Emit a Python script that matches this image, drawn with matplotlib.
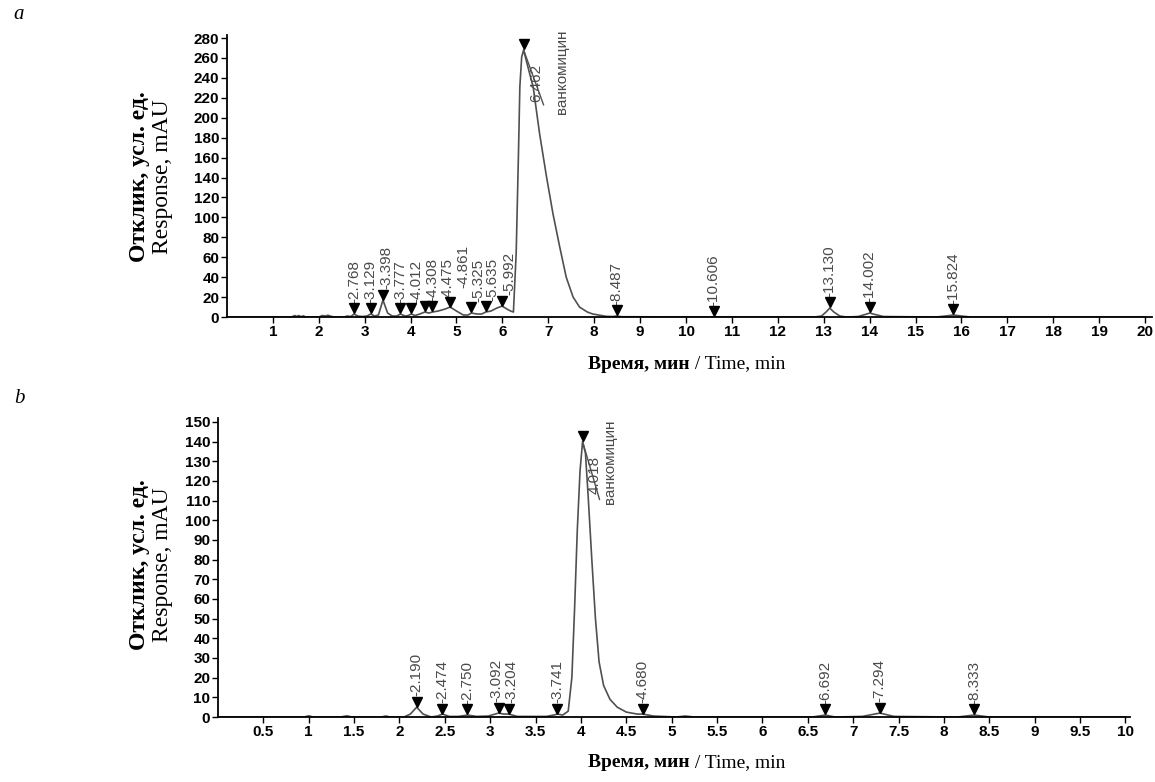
import numpy as np
import matplotlib
matplotlib.use("Agg")
import matplotlib.pyplot as plt
from matplotlib.transforms import offset_copy

# =========================
# DATA
# =========================
# panel a: trace, minutes / mAU
a_time = [0.0, 1.40, 1.48, 1.52, 1.56, 1.62, 1.66, 1.72, 2.00, 2.08, 2.14, 2.20,
          2.26, 2.34, 2.55, 2.62, 2.70, 2.768, 2.85, 2.95, 3.05, 3.129, 3.22,
          3.30, 3.398, 3.50, 3.60, 3.70, 3.777, 3.88, 3.95, 4.012, 4.10, 4.20,
          4.308, 4.40, 4.475, 4.60, 4.75, 4.861, 5.00, 5.15, 5.25, 5.325, 5.45,
          5.55, 5.635, 5.75, 5.88, 5.992, 6.10, 6.18, 6.24, 6.30, 6.35, 6.38,
          6.42, 6.462, 6.55, 6.67, 6.81, 6.96, 7.10, 7.25, 7.39, 7.54, 7.68,
          7.85, 7.97, 8.26, 8.40, 8.487, 8.60, 10.50, 10.606, 10.70, 12.80,
          12.95, 13.05, 13.130, 13.22, 13.35, 13.50, 13.75, 13.90, 14.002,
          14.12, 14.30, 15.45, 15.65, 15.824, 16.00, 16.20, 20.0]
a_resp = [0.0, 0.0, 1.5, 0.5, 1.5, 0.3, 1.2, 0.0, 0.0, 1.5, 1.0, 1.8,
          0.8, 0.0, 0.0, 1.0, 0.5, 3.0, 1.0, 0.5, 1.0, 3.0, 1.0,
          2.0, 17.0, 4.0, 1.0, 1.0, 3.0, 1.0, 1.5, 3.0, 1.5, 3.0,
          5.0, 4.0, 5.0, 6.0, 8.0, 10.0, 6.0, 2.0, 2.0, 4.0, 3.0,
          3.0, 5.0, 6.0, 9.0, 11.0, 8.0, 6.0, 5.0, 64.0, 164.0, 231.0,
          261.0, 268.0, 252.0, 231.0, 184.0, 141.0, 104.0, 70.0, 40.0, 20.0, 10.0,
          5.0, 3.0, 0.7, 0.5, 1.0, 0.3, 0.0, 0.3, 0.0, 0.0,
          1.0, 5.0, 9.0, 5.0, 1.0, 0.0, 0.5, 2.5, 4.0,
          2.5, 0.5, 0.0, 1.0, 2.0, 1.0, 0.0, 0.0]
a_peaks = [2.768, 3.129, 3.398, 3.777, 4.012, 4.308, 4.475, 4.861, 5.325,
           5.635, 5.992, 8.487, 10.606, 13.130, 14.002, 15.824]
a_peak_h = [3, 3, 17, 3, 3, 5, 5, 10, 4, 5, 11, 1, 0.3, 9, 4, 2]
a_main_t, a_main_h, a_main_lbl = 6.462, 268, "6.462"

# panel b
b_time = [0.0, 0.95, 1.00, 1.05, 1.35, 1.42, 1.48, 1.80, 1.85, 1.90, 2.05,
          2.12, 2.190, 2.26, 2.35, 2.42, 2.474, 2.55, 2.65, 2.750, 2.85, 2.98,
          3.092, 3.15, 3.204, 3.30, 3.62, 3.70, 3.741, 3.80, 3.86, 3.90, 3.93,
          3.96, 3.99, 4.018, 4.05, 4.08, 4.12, 4.16, 4.20, 4.25, 4.32, 4.40,
          4.50, 4.62, 4.680, 4.80, 5.05, 5.15, 5.25, 6.55, 6.692, 6.80, 7.10,
          7.294, 7.45, 8.15, 8.333, 8.50, 10.0]
b_resp = [0.0, 0.0, 0.6, 0.0, 0.0, 0.6, 0.0, 0.0, 0.5, 0.0, 0.0,
          1.5, 5.0, 1.5, 0.0, 0.5, 1.5, 0.3, 0.3, 1.0, 0.3, 0.5,
          2.0, 1.5, 1.5, 0.3, 0.3, 1.0, 1.5, 1.0, 3.0, 20.0, 55.0,
          95.0, 125.0, 140.0, 134.0, 112.0, 80.0, 50.0, 28.0, 16.0, 9.0, 5.0,
          2.5, 1.5, 1.5, 0.5, 0.0, 0.5, 0.0, 0.0, 1.0, 0.0, 0.3,
          2.0, 0.3, 0.0, 1.0, 0.0, 0.0]
b_peaks = [2.190, 2.474, 2.750, 3.092, 3.204, 3.741, 4.680, 6.692, 7.294, 8.333]
b_peak_h = [5, 1.5, 1, 2, 1.5, 1.5, 1.5, 1, 2, 1]
b_main_t, b_main_h, b_main_lbl = 4.018, 140, "4.018"

drug_name = "ванкомицин"
ylab_ru = "Отклик, усл. ед."
ylab_en = "Response, mAU"
xlab_ru = "Время, мин"
xlab_en = " / Time, min"

a_yticks = list(range(0, 281, 20))
a_xticks = list(range(1, 21))
b_yticks = list(range(0, 151, 10))
b_xticks = [0.5, 1, 1.5, 2, 2.5, 3, 3.5, 4, 4.5, 5, 5.5, 6, 6.5, 7, 7.5,
            8, 8.5, 9, 9.5, 10]
b_xticklabels = ["0.5", "1", "1.5", "2", "2.5", "3", "3.5", "4", "4.5", "5",
                 "5.5", "6", "6.5", "7", "7.5", "8", "8.5", "9", "9.5", "10"]

# label nudges (pixels) for crowded peak labels
a_nudge = [(0, 0), (0, 0), (3, 0), (0, 0), (5, 0), (8, 0), (15, 0), (13, 8),
           (7, 0), (7, 0), (7, 0), (0, 0), (0, 0), (0, 0), (0, 0), (0, 0)]
b_nudge = [(0, 0), (0, 0), (0, 0), (-2, 0), (3, 0), (0, 0), (0, 0), (0, 0),
           (0, 0), (0, 0)]

TICKFONT = ["Liberation Sans Narrow", "Liberation Sans", "DejaVu Sans"]
LBLFONT = ["Liberation Sans Narrow", "Liberation Sans", "DejaVu Sans"]
SERIF = ["Liberation Serif", "DejaVu Serif"]
TRACE = "#505050"
PX = 72.0 / 100.0  # one pixel in points


def style_axes(ax, xlim, ylim, xticks, xticklabels, yticks):
    ax.set_xlim(*xlim)
    ax.set_ylim(*ylim)
    for s in ("top", "right"):
        ax.spines[s].set_visible(False)
    for s in ("left", "bottom"):
        ax.spines[s].set_linewidth(1.3)
    ax.set_xticks(xticks)
    ax.set_xticklabels(xticklabels)
    ax.set_yticks(yticks)
    ax.set_yticklabels([str(v) for v in yticks])
    ax.tick_params(direction="out", length=4, width=1.0, pad=1.5)
    for lab in ax.get_xticklabels() + ax.get_yticklabels():
        lab.set_family(TICKFONT)
        lab.set_fontweight("bold")
        lab.set_fontsize(11)


def draw_peaks(ax, fig, times, heights, nudges):
    mk = offset_copy(ax.transData, fig=fig, x=0, y=4, units="points")
    ax.plot(times, heights, linestyle="none", marker="v", markersize=7.5,
            color="black", transform=mk, zorder=5)
    for t, h, (dx, dy) in zip(times, heights, nudges):
        ax.annotate("-%.3f" % t, xy=(t, h), xytext=(dx * PX, 8 + dy * PX),
                    textcoords="offset points", rotation=90, ha="center",
                    va="bottom", fontsize=11, color="#4a4a4a", family=LBLFONT)


def draw_main(ax, fig, t, h, lbl, lbl_dx, name_dx, name_dy, lead_dx, lead_dy):
    mk = offset_copy(ax.transData, fig=fig, x=0, y=4, units="points")
    ax.plot([t], [h], linestyle="none", marker="v", markersize=7.5,
            color="black", transform=mk, zorder=5)
    ax.annotate("", xy=(t, h), xytext=(lead_dx * PX, -lead_dy * PX),
                textcoords="offset points",
                arrowprops=dict(arrowstyle="-", color="#505050", lw=1.0,
                                shrinkA=0, shrinkB=0))
    ax.annotate(lbl, xy=(t, h), xytext=(lbl_dx * PX, -14 * PX),
                textcoords="offset points", rotation=90, ha="center",
                va="top", fontsize=11, color="#4a4a4a", family=LBLFONT)
    ax.annotate(drug_name, xy=(t, h), xytext=(name_dx * PX, name_dy * PX),
                textcoords="offset points", rotation=90, ha="center",
                va="top", fontsize=11, color="#4a4a4a", family=LBLFONT)


fig = plt.figure(figsize=(11.55, 7.82), dpi=100)

# ---- panel a
ax_a = fig.add_axes([0.1965, 0.5946, 0.8009, 0.3606])
ax_a.plot(a_time, a_resp, color=TRACE, lw=1.2)
style_axes(ax_a, (0, 20.15), (0, 283), a_xticks,
           [str(v) for v in a_xticks], a_yticks)
draw_peaks(ax_a, fig, a_peaks, a_peak_h, a_nudge)
draw_main(ax_a, fig, a_main_t, a_main_h, a_main_lbl, 13, 38, 20, 20, 55)

# ---- panel b
ax_b = fig.add_axes([0.1887, 0.0831, 0.7896, 0.3824])
ax_b.plot(b_time, b_resp, color=TRACE, lw=1.2)
style_axes(ax_b, (0, 10.05), (0, 152), b_xticks, b_xticklabels, b_yticks)
draw_peaks(ax_b, fig, b_peaks, b_peak_h, b_nudge)
draw_main(ax_b, fig, b_main_t, b_main_h, b_main_lbl, 12, 27, 22, 17, 58)

# ---- axis titles and panel letters
for yc in (0.774, 0.2775):
    fig.text(0.121, yc, ylab_ru, rotation=90, ha="center", va="center",
             fontsize=17, fontweight="bold", family=SERIF)
    fig.text(0.141, yc, ylab_en, rotation=90, ha="center", va="center",
             fontsize=17, family=SERIF)

for yc in (0.5345, 0.0243):
    fig.text(0.597, yc, xlab_ru, ha="right", va="center",
             fontsize=14, fontweight="bold", family=SERIF)
    fig.text(0.597, yc, xlab_en, ha="left", va="center",
             fontsize=14, family=SERIF)

fig.text(0.012, 0.982, "a", ha="left", va="center", fontsize=15,
         style="italic", family=SERIF)
fig.text(0.012, 0.491, "b", ha="left", va="center", fontsize=15,
         style="italic", family=SERIF)

fig.savefig("out.png", dpi=100)
